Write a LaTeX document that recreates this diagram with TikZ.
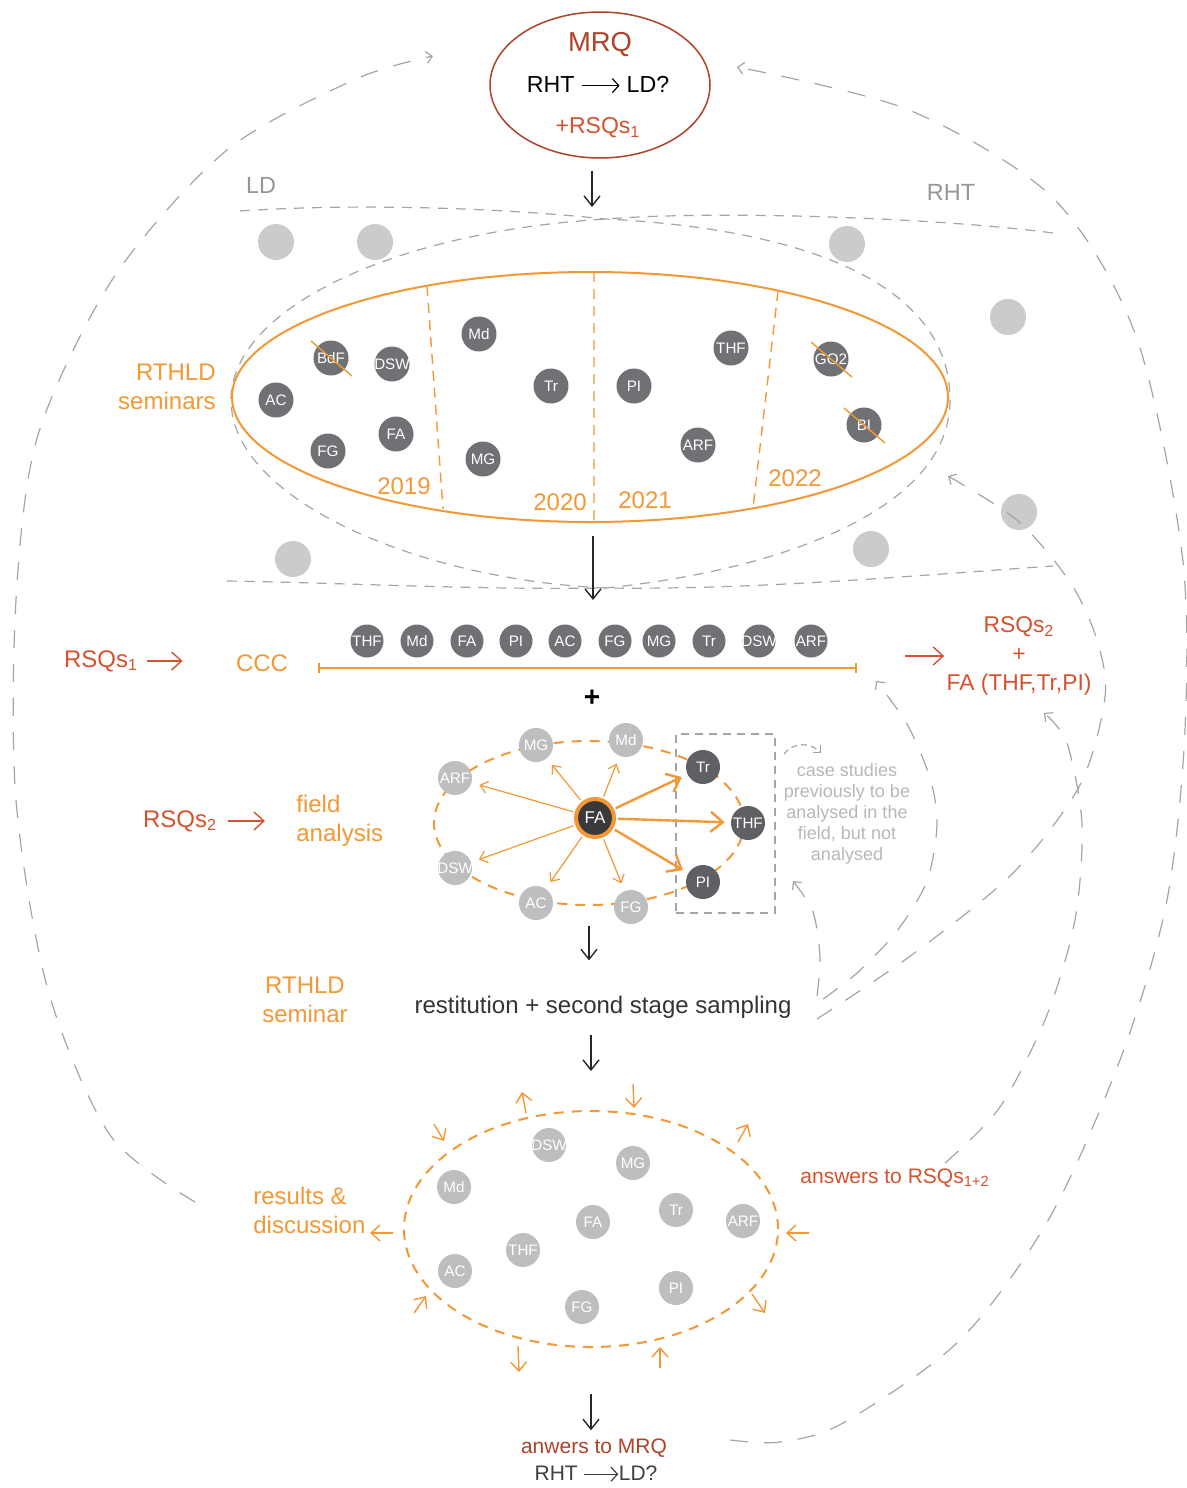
\documentclass[tikz,border=0pt]{standalone}
\usepackage{fontspec}
\setmainfont{Liberation Sans}
\usetikzlibrary{positioning,shapes.geometric,arrows.meta,calc}
\definecolor{mrqred}{RGB}{176,66,40}
\definecolor{rsqred}{RGB}{214,82,46}
\definecolor{orng}{RGB}{243,152,52}
\definecolor{dkgray}{RGB}{112,113,116}
\definecolor{fldgray}{RGB}{95,96,99}
\definecolor{fagray}{RGB}{58,58,60}
\definecolor{ltgray}{RGB}{189,190,192}
\definecolor{bggray}{RGB}{202,203,205}
\definecolor{dashgray}{RGB}{165,165,165}
\definecolor{txtgray}{RGB}{150,150,150}
\definecolor{casegray}{RGB}{184,184,184}
\newcommand{\dotlab}[1]{\makebox[0pt]{#1}}
\newcommand{\lto}[1]{\tikz[baseline=-0.6ex]\draw[-{Straight Barb[length=3.2pt,width=7pt]}, line width=0.6pt] (0pt,0pt) -- (#1,0pt);}
\begin{document}
\begin{tikzpicture}[x=0.5pt, y=-0.5pt, lbl/.style={inner sep=0pt, align=center, font=\fontsize{12}{14.5}\selectfont}, disc/.style={circle, inner sep=0pt, text=white, font=\fontsize{7.6}{8}\selectfont}, dkdot/.style={disc, fill=dkgray, minimum size=17.5pt}, ltdot/.style={disc, fill=ltgray, minimum size=17pt}, bgdot/.style={circle, fill=bggray, inner sep=0pt, minimum size=18pt}, flow/.style={-{Straight Barb[length=5pt,width=8pt]}, line width=0.7pt, black!85}, redarr/.style={-{Straight Barb[length=5pt,width=9pt]}, line width=0.7pt, rsqred}, orarr/.style={-{Straight Barb[length=4.5pt,width=8pt]}, line width=0.7pt, orng}, lens/.style={dashgray, line width=0.6pt, dash pattern=on 5pt off 4pt}, backloop/.style={dashgray, line width=0.6pt, dash pattern=on 9pt off 8pt, -{Straight Barb[length=3pt,width=6pt]}}, strike/.style={orng, line width=0.7pt}]
        \fill[white] (0,0) rectangle (1187,1488);
        \useasboundingbox (0,0) rectangle (1187,1488);
        \node[ellipse, draw=mrqred, line width=0.75pt, minimum width=110pt, minimum height=73pt, inner sep=0pt] (mrq) at (600,85) {};
        \node[lbl, mrqred, font=\fontsize{13.7}{16}\selectfont] (mrqt) at (600,45) {MRQ};
        \node[lbl, font=\fontsize{11.6}{14}\selectfont] (mrqq) at (598,85) {RHT \lto{19pt} LD?};
        \node[lbl, rsqred, font=\fontsize{11.5}{14}\selectfont] (mrqs) at (598,128) {+RSQs\textsubscript{1}};
        \node[lbl, txtgray, font=\fontsize{11.7}{14}\selectfont] (ld) at (261,185) {LD};
        \node[lbl, txtgray, font=\fontsize{11.7}{14}\selectfont] (rht) at (951,192) {RHT};
        \draw[lens] (240,211) .. controls (360,203) and (500,208) .. (606,219) .. controls (820,230) and (950,290) .. (950,400) .. controls (950,510) and (780,570) .. (606,588) .. controls (480,590) and (350,583) .. (227,581);
        \draw[lens] (1053,233) .. controls (940,218) and (720,210) .. (606,219) .. controls (390,232) and (231,310) .. (231,400) .. controls (231,500) and (420,580) .. (606,588) .. controls (760,590) and (920,575) .. (1053,566);
        \foreach \x/\y [count=\i] in {276/242, 375/242, 847/244, 1008/317, 1019/512, 293/559, 871/549}
            \node[bgdot] (bg\i) at (\x,\y) {};
        \node[ellipse, draw=orng, line width=1pt, minimum width=358pt, minimum height=125pt, inner sep=0pt] (sem) at (590,397) {};
        \draw[orng, line width=0.7pt, dash pattern=on 5pt off 3.5pt] (427,286) -- (443,509) (594,272) -- (594,522) (778,291) -- (753,508);
        \foreach \lab/\x/\y in {BdF/331/358, DSW/392/364, AC/276/400, FG/328/451, FA/396/434, Md/479/334, Tr/551/386, MG/483/459, PI/634/386, THF/731/348, ARF/698/445, GO2/831/359, BI/864/425}
            \node[dkdot] (s\lab) at (\x,\y) {\dotlab{\lab}};
        \foreach \lab in {BdF, GO2, BI}
            \draw[strike] ($(s\lab)+(-20,-17)$) -- ($(s\lab)+(21,18)$);
        \node[lbl, orng] (y19) at (404,486) {2019};
        \node[lbl, orng] (y20) at (560,502) {2020};
        \node[lbl, orng] (y21) at (645,500) {2021};
        \node[lbl, orng] (y22) at (795,478) {2022};
        \node[lbl, orng, align=right, anchor=east] (rthld) at (216,387) {RTHLD\\seminars};
        \coordinate (lenstop) at (592,207);
        \coordinate (rowtop) at (593,600);
        \draw[flow, shorten <=6pt] (mrq.south -| lenstop) -- (lenstop);
        \draw[flow, shorten <=6.5pt] (sem.south -| rowtop) -- (rowtop);
        \foreach \lab/\x [count=\i] in {THF/367, Md/417, FA/467, PI/516, AC/565, FG/615, MG/659, Tr/709, DSW/759, ARF/811}
            \node[dkdot, minimum size=16.5pt] (row\i) at (\x,641) {\dotlab{\lab}};
        \node[lbl, orng] (ccc) at (262,663) {CCC};
        \coordinate (cccL) at (318,668);
        \coordinate (cccR) at (857,668);
        \draw[orng, line width=0.8pt, {Bar[width=5pt]}-{Bar[width=5pt]}] (cccL) -- (cccR);
        \node[lbl, rsqred] (rsqa) at (101,661) {RSQs\textsubscript{1}};
        \draw[redarr, shorten <=4.5pt, shorten >=26.5pt] (rsqa.east) -- (rsqa.east -| ccc.west);
        \node[lbl, font=\bfseries\fontsize{14}{16}\selectfont] (plus) at (592,698) {+};
        \node[lbl, rsqred, font=\fontsize{11.4}{14.5}\selectfont] (rsqc) at (1019,656) {RSQs\textsubscript{2}\\+\\FA (THF,Tr,PI)};
        \draw[redarr, shorten <=24pt, shorten >=1pt] (cccR |- rsqc.west) -- (rsqc.west);
        \node[ellipse, draw=orng, line width=1pt, dash pattern=on 5pt off 4pt, minimum width=155pt, minimum height=82pt, inner sep=0pt] (fell) at (589,823) {};
        \node[draw=dashgray, line width=0.6pt, dash pattern=on 4pt off 3pt, minimum width=49.5pt, minimum height=89.5pt, inner sep=0pt] (casebox) at (725.5,823.5) {};
        \foreach \lab/\x/\y in {MG/536/745, Md/626/740, ARF/455/778, DSW/455/868, AC/536/903, FG/631/907}
            \node[ltdot] (f\lab) at (\x,\y) {\dotlab{\lab}};
        \foreach \lab/\x/\y in {Tr/703/767, THF/748/823, PI/703/882}
            \node[dkdot, fill=fldgray, minimum size=17pt] (f\lab) at (\x,\y) {\dotlab{\lab}};
        \node[disc, fill=fagray, draw=orng, line width=2pt, minimum size=19pt, font=\fontsize{8.5}{9}\selectfont] (fFA) at (595,818) {FA};
        \foreach \lab in {MG, Md, ARF, DSW, AC, FG}
            \draw[orarr, line width=0.6pt, -{Straight Barb[length=3.5pt,width=6pt]}, shorten <=1pt, shorten >=4pt] (fFA) -- (f\lab);
        \foreach \lab in {Tr, THF, PI}
            \draw[orarr, line width=1.2pt, -{Straight Barb[length=6pt,width=10pt]}, shorten <=1pt, shorten >=3pt] (fFA) -- (f\lab);
        \node[lbl, rsqred] (rsqb) at (180,821) {RSQs\textsubscript{2}};
        \node[lbl, orng, align=left, anchor=west] (field) at (296,821) {field\\analysis};
        \draw[redarr, shorten <=5.5pt, shorten >=15.5pt] (rsqb.east) -- (rsqb.east -| field.west);
        \node[lbl, casegray, font=\fontsize{9}{10.5}\selectfont] (casetxt) at (847,814) {case studies\\previously to be\\analysed in the\\field, but not\\analysed};
        \coordinate (hkA) at (784,754);
        \coordinate (hkB) at (821,753);
        \draw[dashgray, line width=0.6pt, dash pattern=on 3pt off 2pt, -{Straight Barb[length=2.5pt,width=5pt]}] (hkA) .. controls (793,742) and (810,742) .. (hkB);
        \node[lbl, text=black!80] (restit) at (603,1007) {restitution + second stage sampling};
        \node[lbl, orng] (rthld2) at (305,1000) {RTHLD\\seminar};
        \node[ellipse, draw=orng, line width=1pt, dash pattern=on 5pt off 4pt, minimum width=187pt, minimum height=118pt, inner sep=0pt] (resell) at (591,1229) {};
        \draw[flow, shorten <=10pt, shorten >=17.5pt] (fell.south) -- (fell.south |- restit.north);
        \draw[flow, shorten <=8pt, shorten >=19.5pt] (restit.south -| resell.north) -- (resell.north);
        \foreach \lab/\x/\y in {DSW/549/1145, MG/633/1163, Md/454/1187, FA/593/1222, Tr/676/1210, ARF/743/1221, THF/523/1250, AC/455/1271, PI/676/1288, FG/582/1307}
            \node[ltdot] (r\lab) at (\x,\y) {\dotlab{\lab}};
        \foreach \xa/\ya/\xb/\yb in {526/1113/522/1092, 633/1084/634/1108, 434/1124/444/1141, 738/1142/748/1124, 809/1233/786/1233, 393/1233/370/1233, 414/1313/426/1296, 752/1294/765/1313, 518/1346/519/1372, 660/1368/660/1347}
            \draw[orarr] (\xa,\ya) -- (\xb,\yb);
        \node[lbl, orng, align=left, anchor=west] (results) at (253,1210) {results \&\\discussion};
        \node[lbl, rsqred, anchor=west, font=\fontsize{10.5}{12}\selectfont] (answers) at (800,1178) {answers to RSQs\textsubscript{1+2}};
        \node[lbl, mrqred, font=\fontsize{10.5}{12}\selectfont] (anw) at (594,1448) {anwers to MRQ};
        \node[lbl, text=black!75, font=\fontsize{10.5}{12}\selectfont] (anwq) at (596,1474) {RHT \lto{17pt}LD?};
        \draw[flow, shorten <=23pt, shorten >=4pt] (resell.south) -- (resell.south |- anw.north);
        \coordinate (lpA) at (195,1202);
        \coordinate (lpB) at (433,56);
        \coordinate (rpA) at (730,1440);
        \coordinate (rpB) at (737,67);
        \draw[backloop] plot[smooth] coordinates {(lpA) (110,1135) (48,990) (16,800) (16,600) (38,435) (114,277) (227,150) (356,79) (lpB)};
        \draw[backloop] plot[smooth] coordinates {(rpA) (780,1442) (843,1423) (960,1340) (1050,1217) (1123,1052) (1167,900) (1185,730) (1182,553) (1136,336) (1053,198) (909,110) (rpB)};
        \draw[backloop] plot[smooth] coordinates {(817,1019) (913,954) (1013,873) (1080,785) (1105,697) (1097,640) (1070,582) (1018,521) (948,476)};
        \draw[backloop] plot[smooth] coordinates {(823,999) (857,973) (897,931) (927,881) (937,824) (930,778) (907,724) (876,681)};
        \draw[backloop] plot[smooth] coordinates {(945,1163) (1000,1107) (1047,1015) (1075,920) (1082,824) (1067,743) (1044,713)};
        \draw[backloop] plot[smooth] coordinates {(817,996) (820,957) (813,912) (793,881)};
    \end{tikzpicture}
\end{document}
